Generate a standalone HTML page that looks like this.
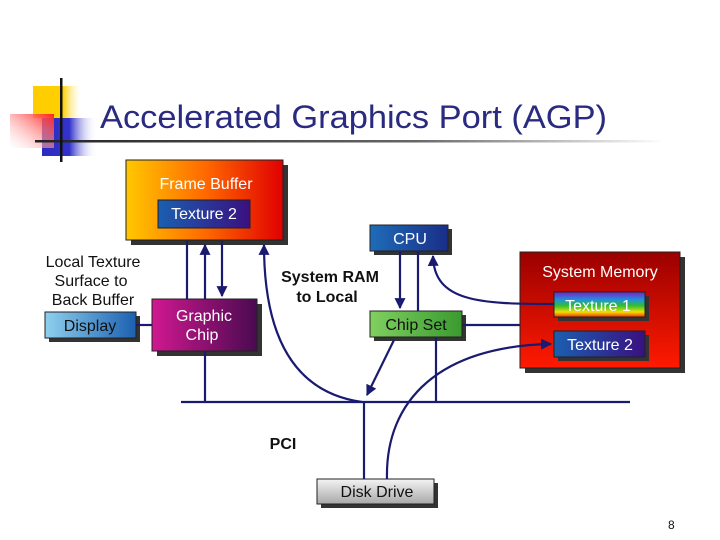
<!DOCTYPE html>
<html><head><meta charset="utf-8"><style>
html,body{margin:0;padding:0;background:#fff;}
svg{display:block;}
text{font-family:"Liberation Sans",sans-serif;}
</style></head><body>
<svg width="720" height="540" viewBox="0 0 720 540" xmlns="http://www.w3.org/2000/svg">
<defs>
<linearGradient id="yel" x1="0" x2="1"><stop offset="0" stop-color="#ffcc00"/><stop offset="0.6" stop-color="#ffd000"/><stop offset="1" stop-color="#fff" stop-opacity="0"/></linearGradient>
<linearGradient id="blu" x1="0" x2="1"><stop offset="0" stop-color="#2b2bc0"/><stop offset="0.5" stop-color="#3333cc"/><stop offset="1" stop-color="#fff" stop-opacity="0"/></linearGradient>
<linearGradient id="red" x1="1" y1="0" x2="0" y2="1"><stop offset="0" stop-color="#ff2020"/><stop offset="1" stop-color="#fff" stop-opacity="0.3"/></linearGradient>
<linearGradient id="hl" x1="0" x2="1"><stop offset="0" stop-color="#222"/><stop offset="0.6" stop-color="#666"/><stop offset="1" stop-color="#fff"/></linearGradient>
<linearGradient id="fb" x1="0" x2="1"><stop offset="0" stop-color="#ffc800"/><stop offset="0.5" stop-color="#ff6a00"/><stop offset="1" stop-color="#e00000"/></linearGradient>
<linearGradient id="tx" x1="0" x2="1"><stop offset="0" stop-color="#1a5fb0"/><stop offset="1" stop-color="#3a1080"/></linearGradient>
<linearGradient id="cpu" x1="0" x2="1"><stop offset="0" stop-color="#1e6cb8"/><stop offset="1" stop-color="#1a2e88"/></linearGradient>
<linearGradient id="gc" x1="0" x2="1"><stop offset="0" stop-color="#d01890"/><stop offset="1" stop-color="#4a0a50"/></linearGradient>
<linearGradient id="dp" x1="0" x2="1"><stop offset="0" stop-color="#8fd0ee"/><stop offset="1" stop-color="#1c60b0"/></linearGradient>
<linearGradient id="cs" x1="0" x2="1"><stop offset="0" stop-color="#80d060"/><stop offset="1" stop-color="#3a9a30"/></linearGradient>
<linearGradient id="sm" x1="0" y1="0" x2="0" y2="1"><stop offset="0" stop-color="#9a0000"/><stop offset="1" stop-color="#ff1a00"/></linearGradient>
<linearGradient id="rb" x1="0" y1="0" x2="0" y2="1"><stop offset="0" stop-color="#8020c0"/><stop offset="0.3" stop-color="#2090e0"/><stop offset="0.55" stop-color="#30c030"/><stop offset="0.8" stop-color="#f0e000"/><stop offset="1" stop-color="#ff3000"/></linearGradient>
<linearGradient id="dd" x1="0" y1="0" x2="0" y2="1"><stop offset="0" stop-color="#f4f4f4"/><stop offset="1" stop-color="#a8a8a8"/></linearGradient>
<marker id="ar" viewBox="0 0 10 10" refX="9" refY="5" markerWidth="5" markerHeight="5" orient="auto"><path d="M0,0 L10,5 L0,10 z" fill="#1a1a70"/></marker>
</defs>

<rect x="33" y="86" width="50" height="32" fill="url(#yel)"/>
<rect x="42" y="118" width="55" height="38" fill="url(#blu)"/>
<rect x="10" y="114" width="44" height="34" fill="url(#red)"/>
<rect x="35" y="140" width="630" height="2.5" fill="url(#hl)"/>
<rect x="60" y="78" width="2.5" height="84" fill="#111"/>
<text x="100" y="128" font-size="32" fill="#2a2a80" textLength="507" lengthAdjust="spacingAndGlyphs">Accelerated Graphics Port (AGP)</text>

<g fill="#333">
<rect x="131" y="165" width="157" height="80"/>
<rect x="162" y="204" width="92" height="28"/>
<rect x="374" y="229" width="78" height="26"/>
<rect x="157" y="304" width="105" height="52"/>
<rect x="49" y="316" width="91" height="26"/>
<rect x="374" y="315" width="92" height="26"/>
<rect x="525" y="257" width="160" height="116"/>
<rect x="321" y="483" width="117" height="25"/>
</g>
<g stroke="#222" stroke-width="1">
<rect x="126" y="160" width="157" height="80" fill="url(#fb)"/>
<rect x="158" y="200" width="92" height="28" fill="url(#tx)"/>
<rect x="370" y="225" width="78" height="26" fill="url(#cpu)"/>
<rect x="152" y="299" width="105" height="52" fill="url(#gc)"/>
<rect x="45" y="312" width="91" height="26" fill="url(#dp)"/>
<rect x="370" y="311" width="92" height="26" fill="url(#cs)"/>
<rect x="520" y="252" width="160" height="116" fill="url(#sm)"/>
<rect x="317" y="479" width="117" height="25" fill="url(#dd)"/>
</g>

<g stroke="#1a1a70" stroke-width="2.2" fill="none">
<line x1="181" y1="402" x2="630" y2="402"/>
<line x1="187" y1="241" x2="187" y2="299"/>
<line x1="205" y1="299" x2="205" y2="245" marker-end="url(#ar)"/>
<line x1="222" y1="241" x2="222" y2="296" marker-end="url(#ar)"/>
<line x1="205" y1="351" x2="205" y2="402"/>
<line x1="136" y1="325" x2="152" y2="325"/>
<path d="M362,402 C 290,392 264,330 264,245" marker-end="url(#ar)"/>
<line x1="400" y1="252" x2="400" y2="308" marker-end="url(#ar)"/>
<line x1="418" y1="252" x2="418" y2="311"/>
<line x1="436" y1="338" x2="436" y2="402"/>
<line x1="394" y1="340" x2="367" y2="395" marker-end="url(#ar)"/>
<line x1="463" y1="325" x2="520" y2="325"/>
<path d="M554,304 C 480,304 434,302 433,256" marker-end="url(#ar)"/>
<line x1="364" y1="402" x2="364" y2="479"/>
<path d="M387,479 C 385,400 440,346 551,344" marker-end="url(#ar)"/>
</g>

<g fill="#333">
<rect x="558" y="296" width="91" height="25"/>
<rect x="558" y="335" width="91" height="26"/>
</g>
<g stroke="#222" stroke-width="1">
<rect x="554" y="292" width="91" height="25" fill="url(#rb)"/>
<rect x="554" y="331" width="91" height="26" fill="url(#tx)"/>
</g>

<g font-size="16" text-anchor="middle">
<text x="206" y="189" fill="#fff">Frame Buffer</text>
<text x="204" y="219" fill="#fff">Texture 2</text>
<text x="410" y="244" fill="#fff">CPU</text>
<text x="204" y="321" fill="#fff">Graphic</text>
<text x="202" y="340" fill="#fff">Chip</text>
<text x="90" y="331" fill="#111">Display</text>
<text x="416" y="330" fill="#111">Chip Set</text>
<text x="600" y="277" fill="#fff">System Memory</text>
<text x="598" y="311" fill="#fff">Texture 1</text>
<text x="600" y="350" fill="#fff">Texture 2</text>
<text x="377" y="497" fill="#111">Disk Drive</text>
<text x="93" y="267" fill="#111">Local Texture</text>
<text x="91" y="286" fill="#111">Surface to</text>
<text x="93" y="305" fill="#111">Back Buffer</text>
<text x="330" y="282" font-weight="bold" fill="#111">System RAM</text>
<text x="327" y="302" font-weight="bold" fill="#111">to Local</text>
<text x="283" y="449" font-weight="bold" fill="#111">PCI</text>
</g>
<text x="668" y="529" font-size="12" fill="#111">8</text>
</svg>
</body></html>
